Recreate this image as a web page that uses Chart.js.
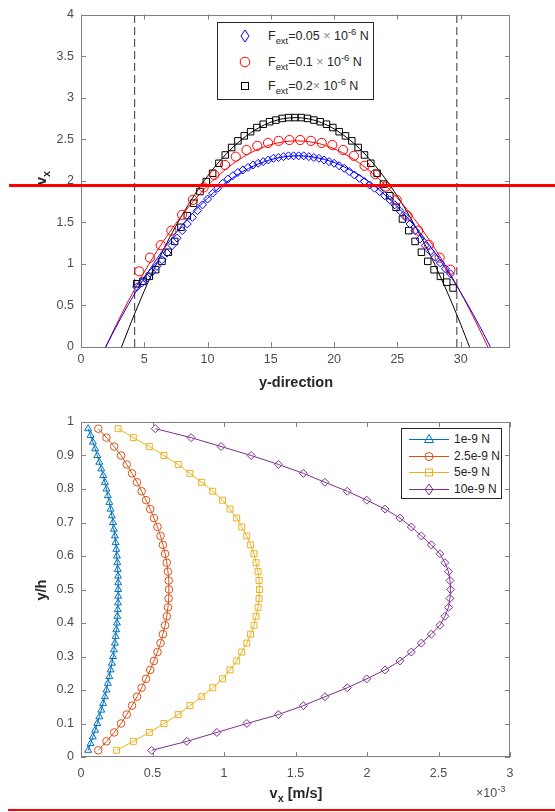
<!DOCTYPE html>
<html>
<head>
<meta charset="utf-8">
<script src="https://cdn.jsdelivr.net/npm/chart.js@4"></script>
<style>
  body { margin: 0; background: #fff; }
  #page { position: relative; width: 555px; height: 812px; overflow: hidden; background: #fff;
          font-family: "Liberation Sans", Arial, sans-serif; color: #262626; }
  canvas { position: absolute; left: 0; }
  .lbl { position: absolute; font-weight: bold; font-size: 14.5px; white-space: nowrap; color: #262626; }
  .rot { transform: translate(-50%, -50%) rotate(-90deg); }
  .ctr { transform: translate(-50%, -50%); }
  .lbl sub { font-size: 0.75em; line-height: 0; vertical-align: -0.35em; }
  .legend { position: absolute; border: 1px solid #262626; background: #fff; box-sizing: border-box; }
  .legend svg { position: absolute; }
  .legend .txt { position: absolute; height: 16px; line-height: 16px; font-size: 12px; white-space: nowrap; color: #262626; }
  .txt sub { font-size: 0.75em; line-height: 0; vertical-align: -0.4em; }
  .txt sup { font-size: 0.75em; line-height: 0; vertical-align: 0.55em; }
  .big { font-size: 12.5px !important; }
  .g { color: #8c8c8c; }
  .mark { position: absolute; background: #ff0000; }
  .expo { position: absolute; font-size: 12.5px; color: #4d4d4d; white-space: nowrap; }
  .expo sup { font-size: 0.75em; line-height: 0; vertical-align: 0.55em; }
</style>
</head>
<body>
<div id="page">
  <canvas id="topChart" width="555" height="400" style="top:0"></canvas>
  <canvas id="botChart" width="555" height="412" style="top:400px"></canvas>

  <div class="lbl rot" style="left:41px;top:178px">v<sub>x</sub></div>
  <div class="lbl ctr" style="left:296px;top:382px">y-direction</div>
  <div class="lbl rot" style="left:41px;top:590px">y/h</div>
  <div class="lbl ctr" style="left:296px;top:793px">v<sub>x</sub> [m/s]</div>
  <div class="expo" style="left:476px;top:786px">×10<sup>-3</sup></div>

  <div class="legend" style="left:217px;top:22px;width:157px;height:78px">
    <svg style="left:20px;top:6px" width="14" height="14"><path d="M7 1 L11 7 L7 13 L3 7 Z" fill="none" stroke="#0000ff"/></svg>
    <div class="txt big" style="left:50px;top:5px">F<sub>ext</sub>=0.05 <span class="g">×</span> 10<sup>-6</sup> N</div>
    <svg style="left:20px;top:32px" width="14" height="14"><circle cx="7" cy="7" r="4.8" fill="none" stroke="#ff0000"/></svg>
    <div class="txt big" style="left:50px;top:31px">F<sub>ext</sub>=0.1 <span class="g">×</span> 10<sup>-6</sup> N</div>
    <svg style="left:20px;top:56px" width="14" height="14"><rect x="3.5" y="3.5" width="7" height="7" fill="none" stroke="#000"/></svg>
    <div class="txt big" style="left:50px;top:55px">F<sub>ext</sub>=0.2<span class="g">×</span> 10<sup>-6</sup> N</div>
  </div>

  <div class="legend" style="left:401px;top:428px;width:101px;height:71px">
    <svg style="left:7px;top:3px" width="40" height="14"><line x1="0" y1="7.5" x2="40" y2="7.5" stroke="#0072BD"/><path d="M20 2.5 L24.5 10.5 L15.5 10.5 Z" fill="none" stroke="#0072BD"/></svg>
    <div class="txt" style="left:52px;top:2px">1e-9 N</div>
    <svg style="left:7px;top:20px" width="40" height="14"><line x1="0" y1="7.5" x2="40" y2="7.5" stroke="#D95319"/><circle cx="20" cy="7.5" r="4" fill="none" stroke="#D95319"/></svg>
    <div class="txt" style="left:52px;top:19px">2.5e-9 N</div>
    <svg style="left:7px;top:36px" width="40" height="14"><line x1="0" y1="7.5" x2="40" y2="7.5" stroke="#EDB120"/><rect x="16.5" y="4" width="7" height="7" fill="none" stroke="#EDB120"/></svg>
    <div class="txt" style="left:52px;top:35px">5e-9 N</div>
    <svg style="left:7px;top:53px" width="40" height="14"><line x1="0" y1="7.5" x2="40" y2="7.5" stroke="#7E2F8E"/><path d="M20 2 L24 7.5 L20 13 L16 7.5 Z" fill="none" stroke="#7E2F8E"/></svg>
    <div class="txt" style="left:52px;top:52px">10e-9 N</div>
  </div>

  <div class="mark" style="left:9px;top:184px;width:546px;height:2.5px"></div>
  <div class="mark" style="left:8px;top:809px;width:547px;height:2px"></div>
</div>

<script>
// ---- top panel: velocity profile along y-direction ----
const blueX = [4.4, 4.8, 5.2, 5.6, 6.0, 6.4, 6.8, 7.2, 7.6, 8.0, 8.4, 8.8, 9.2, 9.6, 10.0, 10.4, 10.8, 11.2, 11.6, 12.0,
               12.4, 12.8, 13.2, 13.6, 14.0, 14.4, 14.8, 15.2, 15.6, 16.0, 16.4, 16.8, 17.2, 17.6, 18.0, 18.4, 18.8, 19.2,
               19.6, 20.0, 20.4, 20.8, 21.2, 21.6, 22.0, 22.4, 22.8, 23.2, 23.6, 24.0, 24.4, 24.8, 25.2, 25.6, 26.0, 26.4,
               26.8, 27.2, 27.6, 28.0, 28.4, 28.8, 29.2];
const blueV = [0.72, 0.77, 0.83, 0.90, 0.97, 1.05, 1.13, 1.22, 1.31, 1.40, 1.48, 1.56, 1.64, 1.71, 1.78, 1.85, 1.91, 1.97, 2.02, 2.06,
               2.10, 2.13, 2.16, 2.19, 2.21, 2.23, 2.25, 2.27, 2.28, 2.29, 2.30, 2.30, 2.30, 2.30, 2.29, 2.28, 2.27, 2.25,
               2.23, 2.21, 2.18, 2.15, 2.11, 2.07, 2.03, 1.99, 1.95, 1.91, 1.87, 1.82, 1.77, 1.71, 1.64, 1.57, 1.48, 1.40,
               1.30, 1.22, 1.15, 1.08, 1.01, 0.94, 0.88];

const redX = [4.6, 5.45, 6.3, 7.14, 7.99, 8.84, 9.69, 10.54, 11.38, 12.23, 13.08, 13.93, 14.78, 15.62, 16.47,
              17.32, 18.17, 19.02, 19.86, 20.71, 21.56, 22.41, 23.25, 24.1, 24.95, 25.8, 26.64, 27.49, 28.34, 29.19];
const redV = [0.91, 1.075, 1.225, 1.40, 1.59, 1.77, 1.92, 2.07, 2.19, 2.29, 2.37, 2.42, 2.455, 2.48, 2.49,
              2.49, 2.48, 2.455, 2.43, 2.37, 2.30, 2.18, 2.08, 1.93, 1.77, 1.58, 1.40, 1.23, 1.075, 0.93];

const blackX = [4.4, 4.9, 5.4, 5.9, 6.4, 6.9, 7.4, 7.9, 8.4, 8.9, 9.4, 9.9, 10.4, 10.9, 11.4, 11.9, 12.4, 12.9, 13.4, 13.9,
                14.4, 14.9, 15.4, 15.9, 16.4, 16.9, 17.4, 17.9, 18.4, 18.9, 19.4, 19.9, 20.4, 20.9, 21.4, 21.9, 22.4, 22.9,
                23.4, 23.9, 24.4, 24.9, 25.4, 25.9, 26.4, 26.9, 27.4, 27.9, 28.4, 28.9, 29.4];
const blackV = [0.76, 0.79, 0.85, 0.93, 1.03, 1.14, 1.27, 1.44, 1.58, 1.73, 1.87, 1.99, 2.09, 2.21, 2.31, 2.40, 2.48, 2.54, 2.59, 2.64,
                2.68, 2.71, 2.73, 2.75, 2.76, 2.76, 2.76, 2.75, 2.73, 2.71, 2.68, 2.64, 2.59, 2.54, 2.48, 2.40, 2.31, 2.21,
                2.09, 1.96, 1.82, 1.68, 1.54, 1.40, 1.27, 1.14, 1.03, 0.93, 0.85, 0.78, 0.71];

// fitted curves
const blueFitX = [1.95, 3, 4, 5, 6, 7, 8, 9, 10, 11, 12, 13, 14, 15, 16, 17, 18, 19, 20, 21, 22, 23, 24, 25, 26, 27, 28, 29, 30, 31, 32, 32.35];
const blueFitV = [0, 0.307, 0.579, 0.830, 1.063, 1.274, 1.467, 1.639, 1.791, 1.923, 2.036, 2.129, 2.201, 2.254, 2.287, 2.30,
                  2.293, 2.266, 2.219, 2.152, 2.066, 1.959, 1.833, 1.687, 1.520, 1.334, 1.128, 0.902, 0.656, 0.391, 0.105, 0];
const redFitX = [1.95, 3, 4, 5, 6, 7, 8, 9, 10, 11, 12, 13, 14, 15, 16, 17, 18, 19, 20, 21, 22, 23, 24, 25, 26, 27, 28, 29, 30, 31, 32, 32.15];
const redFitV = [0, 0.333, 0.628, 0.901, 1.152, 1.381, 1.589, 1.775, 1.939, 2.082, 2.203, 2.302, 2.379, 2.434, 2.468, 2.48,
                 2.47, 2.439, 2.385, 2.31, 2.213, 2.095, 1.955, 1.793, 1.609, 1.403, 1.176, 0.927, 0.656, 0.363, 0.049, 0];
const blackFitX = [3.2, 4, 5, 6, 7, 8, 9, 10, 11, 12, 13, 14, 15, 16, 17, 18, 19, 20, 21, 22, 23, 24, 25, 26, 27, 28, 29, 30, 30.7];
const blackFitV = [0, 0.31, 0.675, 1.01, 1.315, 1.59, 1.837, 2.055, 2.243, 2.402, 2.532, 2.633, 2.705, 2.747, 2.76, 2.744,
                   2.699, 2.624, 2.52, 2.388, 2.226, 2.034, 1.814, 1.564, 1.286, 0.978, 0.64, 0.274, 0];

// channel walls (dashed)
const wallX = [4.24, 29.7];
const wallV = [0, 4];

// ---- bottom panel: v_x across the channel height ----
const yhFine = [0.02, 0.04, 0.06, 0.08, 0.10, 0.12, 0.14, 0.16, 0.18, 0.20, 0.22, 0.24, 0.26, 0.28, 0.30, 0.32, 0.34,
                0.36, 0.38, 0.40, 0.42, 0.44, 0.46, 0.48, 0.50, 0.52, 0.54, 0.56, 0.58, 0.60, 0.62, 0.64, 0.66, 0.68,
                0.70, 0.72, 0.74, 0.76, 0.78, 0.80, 0.82, 0.84, 0.86, 0.88, 0.90, 0.92, 0.94, 0.96, 0.98];
const yhCoarse = [0.02, 0.0467, 0.0733, 0.1, 0.1267, 0.1533, 0.18, 0.2067, 0.2333, 0.26, 0.2867, 0.3133, 0.34,
                  0.3667, 0.3933, 0.42, 0.4467, 0.4733, 0.5, 0.5267, 0.5533, 0.58, 0.6067, 0.6333, 0.66, 0.6867,
                  0.7133, 0.74, 0.7667, 0.7933, 0.82, 0.8467, 0.8733, 0.9, 0.9267, 0.9533, 0.98];

const vx1 = [0.050, 0.067, 0.083, 0.099, 0.114, 0.128, 0.142, 0.155, 0.167, 0.178, 0.188, 0.198, 0.207, 0.216, 0.224,
             0.230, 0.237, 0.242, 0.247, 0.251, 0.254, 0.257, 0.259, 0.260, 0.260, 0.260, 0.259, 0.257, 0.254, 0.251,
             0.247, 0.242, 0.237, 0.230, 0.224, 0.216, 0.207, 0.198, 0.188, 0.178, 0.167, 0.155, 0.142, 0.128, 0.114,
             0.099, 0.083, 0.067, 0.050];
const vx25 = [0.121, 0.178, 0.232, 0.280, 0.320, 0.357, 0.392, 0.424, 0.455, 0.484, 0.510, 0.535, 0.556, 0.573, 0.588,
              0.600, 0.608, 0.613, 0.615, 0.613, 0.608, 0.600, 0.588, 0.573, 0.556, 0.535, 0.510, 0.484, 0.455, 0.424,
              0.392, 0.357, 0.320, 0.280, 0.232, 0.178, 0.121];
const vx5 = [0.249, 0.366, 0.478, 0.58, 0.68, 0.762, 0.844, 0.921, 0.99, 1.042, 1.089, 1.124, 1.159, 1.186, 1.21,
             1.224, 1.238, 1.245, 1.248, 1.245, 1.238, 1.224, 1.21, 1.186, 1.159, 1.124, 1.089, 1.042, 0.99, 0.921,
             0.844, 0.762, 0.68, 0.58, 0.478, 0.366, 0.26];
const vx10 = [0.494, 0.74, 0.95, 1.16, 1.38, 1.555, 1.706, 1.862, 1.998, 2.126, 2.23, 2.31, 2.38, 2.45, 2.51, 2.545,
              2.57, 2.58, 2.585, 2.58, 2.57, 2.545, 2.51, 2.45, 2.38, 2.31, 2.23, 2.126, 1.998, 1.862, 1.706, 1.555,
              1.38, 1.19, 0.98, 0.77, 0.52];

const xTicksBot = [0, 0.5, 1, 1.5, 2, 2.5, 3];   // in units of 1e-3 m/s

function pts(xs, ys) {
    return xs.map((x, i) => ({ x: x, y: ys[i] }));
}

// MATLAB-like box with inward ticks on all four sides
const boxTicks = {
    id: 'boxTicks',
    afterDraw(chart) {
        const ctx = chart.ctx;
        const a = chart.chartArea;
        const sx = chart.scales.x, sy = chart.scales.y;
        const len = 5;
        ctx.save();
        ctx.strokeStyle = '#808080';
        ctx.lineWidth = 1;
        ctx.beginPath();
        sx.ticks.forEach(t => {
            const p = Math.round(sx.getPixelForValue(t.value)) + 0.5;
            ctx.moveTo(p, a.bottom); ctx.lineTo(p, a.bottom - len);
            ctx.moveTo(p, a.top); ctx.lineTo(p, a.top + len);
        });
        sy.ticks.forEach(t => {
            const p = Math.round(sy.getPixelForValue(t.value)) + 0.5;
            ctx.moveTo(a.left, p); ctx.lineTo(a.left + len, p);
            ctx.moveTo(a.right, p); ctx.lineTo(a.right - len, p);
        });
        ctx.stroke();
        ctx.strokeRect(Math.round(a.left) + 0.5, Math.round(a.top) + 0.5,
                       Math.round(a.right - a.left) - 1, Math.round(a.bottom - a.top) - 1);
        ctx.restore();
    }
};

const tickFont = { family: 'Liberation Sans, Arial, sans-serif', size: 12.5 };
const plain = v => String(+Number(v).toFixed(3));   // 0, 0.5, 1 ... like MATLAB

function axisX(min, max, step, fitHeight, pad) {
    return {
        type: 'linear', min: min, max: max,
        afterFit(s) { s.height = fitHeight; },
        grid: { display: false, drawTicks: false },
        border: { display: false },
        ticks: { stepSize: step, includeBounds: false, padding: pad, color: '#4d4d4d', font: tickFont,
                 maxRotation: 0, autoSkip: false, callback: plain }
    };
}
function axisY(min, max, step) {
    return {
        type: 'linear', min: min, max: max,
        afterFit(s) { s.width = 81; },
        grid: { display: false, drawTicks: false },
        border: { display: false },
        ticks: { stepSize: step, padding: 7, color: '#4d4d4d', font: tickFont, autoSkip: false, callback: plain }
    };
}

document.addEventListener('DOMContentLoaded', function () {
    const marker = (color, style, r) => ({
        showLine: false, pointStyle: style, pointRadius: r, pointBorderWidth: 1,
        borderColor: color, pointBorderColor: color, backgroundColor: 'rgba(0,0,0,0)', pointBackgroundColor: 'rgba(0,0,0,0)'
    });
    const curve = (color) => ({
        showLine: true, pointRadius: 0, borderWidth: 1, borderColor: color, fill: false, tension: 0.3
    });

    new Chart(document.getElementById('topChart'), {
        type: 'scatter',
        data: {
            datasets: [
                Object.assign({ data: pts(blueX, blueV) }, marker('#0000ff', 'rectRot', 4)),
                Object.assign({ data: pts(redX, redV) }, marker('#ff0000', 'circle', 4.6)),
                Object.assign({ data: pts(blackX, blackV) }, marker('#000000', 'rect', 4.6)),
                Object.assign({ data: pts(blueFitX, blueFitV) }, curve('#0000ff')),
                Object.assign({ data: pts(redFitX, redFitV) }, curve('#ff0000')),
                Object.assign({ data: pts(blackFitX, blackFitV) }, curve('#000000')),
                { data: pts([wallX[0], wallX[0]], wallV), showLine: true, pointRadius: 0, borderWidth: 1, borderColor: '#333', borderDash: [8, 4] },
                { data: pts([wallX[1], wallX[1]], wallV), showLine: true, pointRadius: 0, borderWidth: 1, borderColor: '#333', borderDash: [8, 4] }
            ]
        },
        options: {
            responsive: false, animation: false, devicePixelRatio: 1,
            layout: { padding: { top: 8, right: 45, left: 0, bottom: 0 } },
            plugins: { legend: { display: false }, tooltip: { enabled: false } },
            scales: { x: axisX(0, 33.9, 5, 53, 5), y: axisY(0, 4, 0.5) }
        },
        plugins: [boxTicks]
    });

    const series = (xs, ys, color, style, r) => ({
        data: pts(xs, ys), showLine: true, borderWidth: 1, borderColor: color, tension: 0,
        pointStyle: style, pointRadius: r, pointBorderWidth: 1, pointBorderColor: color,
        backgroundColor: 'rgba(0,0,0,0)', pointBackgroundColor: 'rgba(0,0,0,0)'
    });

    new Chart(document.getElementById('botChart'), {
        type: 'scatter',
        data: {
            datasets: [
                series(vx1, yhFine, '#0072BD', 'triangle', 4),
                series(vx25, yhCoarse, '#D95319', 'circle', 3.8),
                series(vx5, yhCoarse, '#EDB120', 'rect', 4.2),
                series(vx10, yhCoarse, '#7E2F8E', 'rectRot', 4)
            ]
        },
        options: {
            responsive: false, animation: false, devicePixelRatio: 1,
            layout: { padding: { top: 22, right: 45, left: 0, bottom: 0 } },
            plugins: { legend: { display: false }, tooltip: { enabled: false } },
            scales: {
                x: axisX(xTicksBot[0], xTicksBot[xTicksBot.length - 1], 0.5, 55, 9),
                y: axisY(0, 1, 0.1)
            }
        },
        plugins: [boxTicks]
    });
});
</script>
</body>
</html>
